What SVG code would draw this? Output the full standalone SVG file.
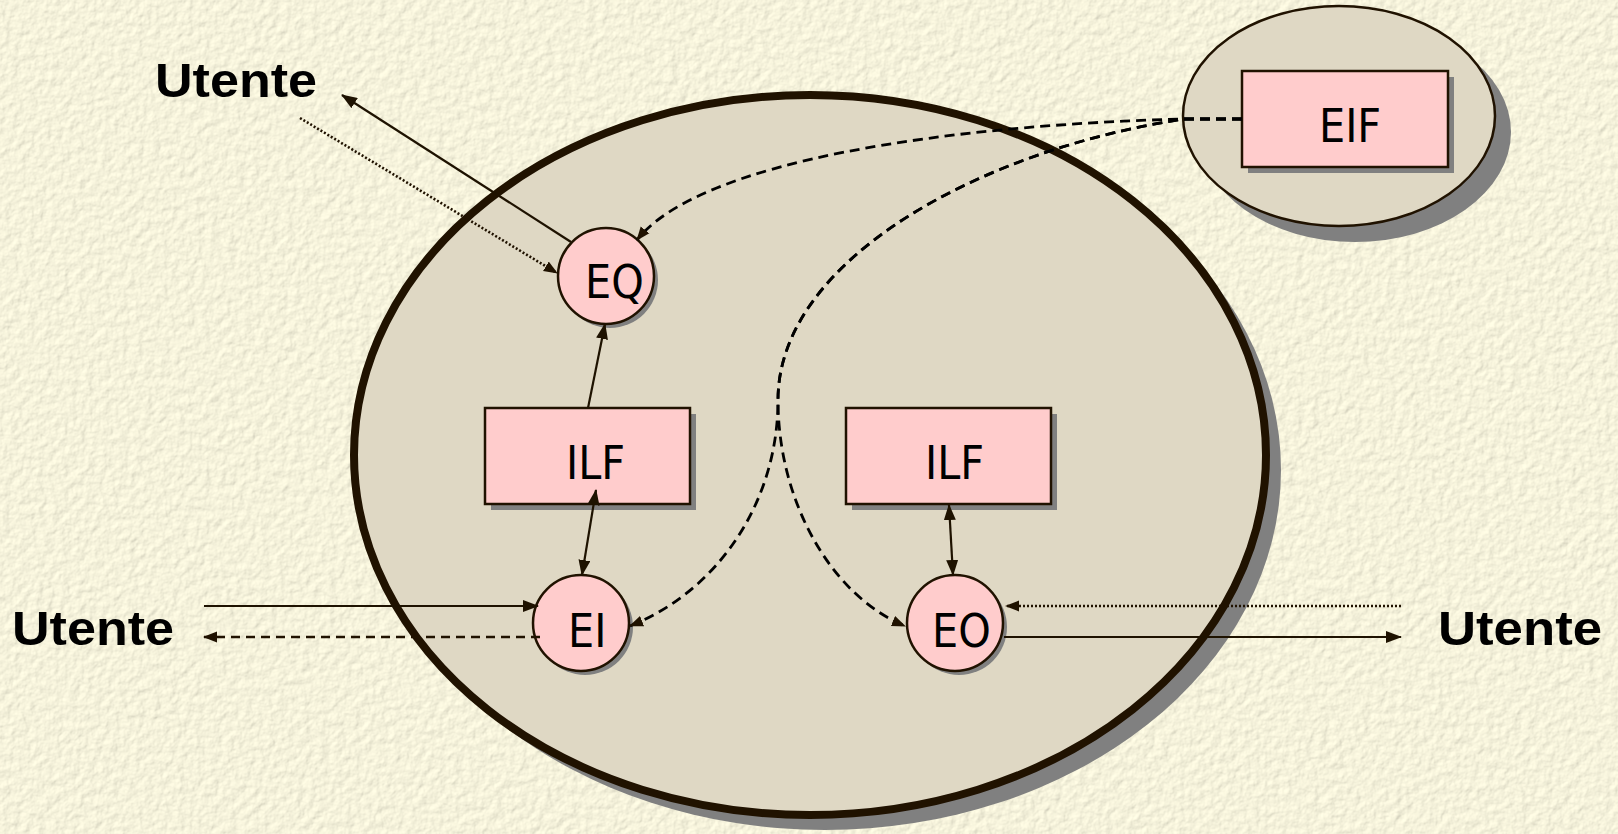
<svg xmlns="http://www.w3.org/2000/svg" width="1618" height="834" viewBox="0 0 1618 834">
  <style>
    .sys { fill: #DFD8C4; stroke: #201200; }
    .shadow { fill: #808080; }
    .box { fill: #FFCCCC; stroke: #201200; stroke-width: 2.5; }
    .lbl { font-family: "DejaVu Sans Condensed", "DejaVu Sans", "Liberation Sans", sans-serif; font-stretch: condensed; font-size: 46px; fill: #000; }
    .user { font-family: "Liberation Sans", Arial, sans-serif; font-size: 48px; font-weight: bold; fill: #000; }
    .solid { fill: none; stroke: #1E1200; stroke-width: 2.2; }
    .dash { fill: none; stroke: #000; stroke-width: 2.8; stroke-dasharray: 10 6; }
    .dashb { fill: none; stroke: #201200; stroke-width: 2.6; stroke-dasharray: 9 6; }
    .dot { fill: none; stroke: #201200; stroke-width: 2.6; stroke-dasharray: 2 2; }
  </style>
  <defs>
    <filter id="paper" x="0" y="0" width="100%" height="100%">
      <feTurbulence type="fractalNoise" baseFrequency="0.12" numOctaves="4" seed="7" result="n"/>
      <feDiffuseLighting in="n" surfaceScale="1.1" diffuseConstant="1.04" lighting-color="#FFFCE4" result="lit">
        <feDistantLight azimuth="225" elevation="62"/>
      </feDiffuseLighting>
      <feComposite in="lit" in2="SourceGraphic" operator="in"/>
    </filter>
    <marker id="arr" viewBox="0 0 16 12" refX="15" refY="6" markerWidth="16" markerHeight="12" markerUnits="userSpaceOnUse" orient="auto-start-reverse">
      <path d="M0,0 L16,6 L0,12 z" fill="#1E1200"/>
    </marker>
    <marker id="arrs" viewBox="0 0 14 12" refX="13" refY="6" markerWidth="14" markerHeight="12" markerUnits="userSpaceOnUse" orient="auto">
      <path d="M0,0.5 L14,6 L0,11.5 z" fill="#201200"/>
    </marker>
  </defs>

  <!-- textured backdrop -->
  <rect width="1618" height="834" fill="#E8E3C6"/>
  <rect width="1618" height="834" fill="#E8E3C6" filter="url(#paper)"/>

  <!-- application boundary -->
  <g id="system">
    <ellipse class="shadow" cx="825" cy="470" rx="456" ry="360"/>
    <ellipse class="sys" cx="810" cy="455" rx="456" ry="360" stroke-width="8"/>
  </g>

  <!-- external application -->
  <g id="external">
    <ellipse class="shadow" cx="1355" cy="132" rx="156" ry="110"/>
    <ellipse class="sys" cx="1339" cy="116" rx="156" ry="110" stroke-width="2.5"/>
  </g>

  <g id="eif">
    <rect class="shadow" x="1248" y="77" width="206" height="96"/>
    <rect class="box" x="1242" y="71" width="206" height="96"/>
    <text class="lbl" x="1319" y="142">EIF</text>
  </g>

  <g id="ilf-left">
    <rect class="shadow" x="491" y="414" width="205" height="96"/>
    <rect class="box" x="485" y="408" width="205" height="96"/>
    <text class="lbl" x="566" y="479">ILF</text>
  </g>

  <g id="ilf-right">
    <rect class="shadow" x="852" y="414" width="205" height="96"/>
    <rect class="box" x="846" y="408" width="205" height="96"/>
    <text class="lbl" x="925" y="479">ILF</text>
  </g>

  <g id="eq">
    <circle class="shadow" cx="610" cy="280" r="48"/>
    <circle class="box" cx="606" cy="276" r="48"/>
    <text class="lbl" x="585" y="298">EQ</text>
  </g>

  <g id="ei">
    <circle class="shadow" cx="585" cy="627" r="48"/>
    <circle class="box" cx="581" cy="623" r="48"/>
    <text class="lbl" x="568" y="647">EI</text>
  </g>

  <g id="eo">
    <circle class="shadow" cx="959" cy="627" r="48"/>
    <circle class="box" cx="955" cy="623" r="48"/>
    <text class="lbl" x="932" y="647">EO</text>
  </g>

  <g id="user-top">
    <text class="user" x="155" y="97" textLength="162" lengthAdjust="spacingAndGlyphs">Utente</text>
  </g>
  <g id="user-left">
    <text class="user" x="12" y="645" textLength="162" lengthAdjust="spacingAndGlyphs">Utente</text>
  </g>
  <g id="user-right">
    <text class="user" x="1438" y="645" textLength="164" lengthAdjust="spacingAndGlyphs">Utente</text>
  </g>

  <g id="connectors">
    <!-- enquiry -->
    <line class="solid" x1="571" y1="242" x2="342" y2="95" marker-end="url(#arr)"/>
    <line class="dot" x1="300" y1="118" x2="557" y2="273" marker-end="url(#arrs)"/>
    <line class="solid" x1="588" y1="408" x2="605" y2="324" marker-end="url(#arr)"/>
    <!-- input -->
    <line class="solid" x1="596" y1="490" x2="582" y2="575" marker-start="url(#arr)" marker-end="url(#arr)"/>
    <line class="solid" x1="204" y1="606" x2="538" y2="606" marker-end="url(#arr)"/>
    <line class="dashb" x1="540" y1="637" x2="204" y2="637" marker-end="url(#arrs)"/>
    <!-- output -->
    <line class="solid" x1="949" y1="505" x2="953" y2="575" marker-start="url(#arr)" marker-end="url(#arr)"/>
    <line class="dot" x1="1401" y1="606" x2="1006" y2="606" marker-end="url(#arrs)"/>
    <line class="solid" x1="1004" y1="637" x2="1401" y2="637" marker-end="url(#arr)"/>
    <!-- external interface references -->
    <path class="dash" d="M1242,119 L1184,119 C950,125 700,160 637,240" marker-end="url(#arrs)"/>
    <path class="dash" d="M1242,119 L1184,119 C980,150 778,260 778,400 C778,500 720,590 630,626" marker-end="url(#arrs)"/>
    <path class="dash" d="M1242,119 L1184,119 C980,150 778,260 778,400 C778,500 830,595 905,626" marker-end="url(#arrs)"/>
  </g>
</svg>
